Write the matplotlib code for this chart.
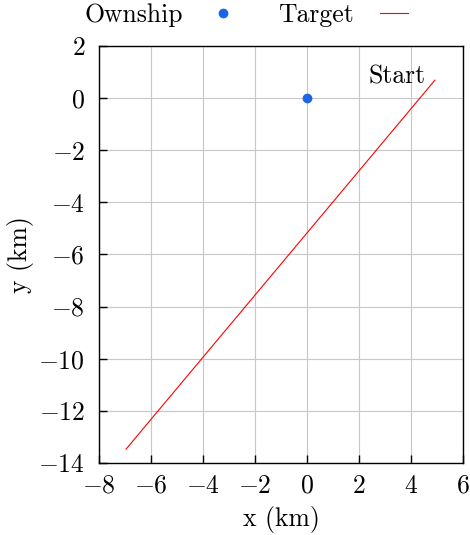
import numpy as np
import matplotlib
matplotlib.use("Agg")
import matplotlib.pyplot as plt

# Data
ownship_x = [0.0]
ownship_y = [0.0]
target_x = [4.92, -6.96]
target_y = [0.69, -13.47]
start_label = "Start"

plt.rcParams["font.family"] = "serif"
plt.rcParams["font.serif"] = ["cmr10"]
plt.rcParams["mathtext.fontset"] = "cm"
plt.rcParams["axes.formatter.use_mathtext"] = True
plt.rcParams["font.size"] = 18.5

fig = plt.figure(figsize=(4.7, 5.35), dpi=100)
ax = fig.add_axes([0.2106, 0.1346, 0.7745, 0.7794])

ax.plot(ownship_x, ownship_y, "o", color="#1a66e6", markersize=6, label="Ownship", zorder=3)
ax.plot(target_x, target_y, "-", color="red", linewidth=0.8, label="Target", zorder=3)
ax.text(4.55, 0.82, start_label, ha="right", va="center")

ax.set_xlim(-8, 6)
ax.set_ylim(-14, 2)
ax.set_xticks(np.arange(-8, 7, 2))
ax.set_yticks(np.arange(-14, 3, 2))
ax.grid(True, color="#c8c8c8", linewidth=0.8)
ax.set_axisbelow(True)
ax.tick_params(direction="in", length=6, width=1, pad=8)
ax.tick_params(axis="y", pad=10)
for s in ax.spines.values():
    s.set_linewidth(1)
ax.set_xlabel("x (km)", labelpad=6)
ax.set_ylabel("y (km)", labelpad=3)

ax.legend(loc="lower center", bbox_to_anchor=(0.405, 1.02), ncol=2, frameon=False,
          markerfirst=False, handlelength=1.1, columnspacing=1.6, borderaxespad=0.0,
          handletextpad=1.0)

fig.savefig("out.png", dpi=100)
